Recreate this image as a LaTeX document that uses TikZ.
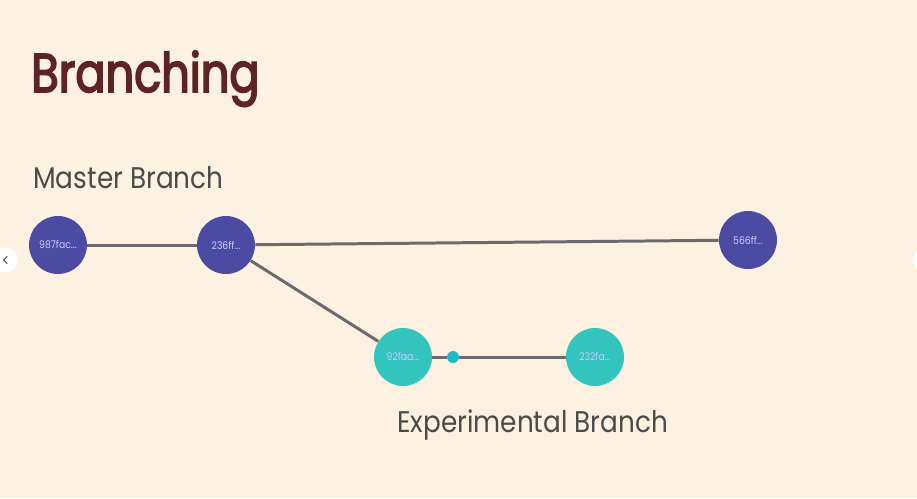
\documentclass[tikz,border=0pt]{standalone}
\usepackage{fontspec}
\setmainfont{Poppins}
\newfontfamily\titlefont{Poppins}[FakeStretch=0.82, FakeBold=3]
\newfontfamily\labelfont{Poppins}[FakeStretch=0.88]
\usetikzlibrary{positioning}
\definecolor{slidebg}{HTML}{FDF1E1}
\definecolor{titlered}{HTML}{5E2424}
\definecolor{labelgray}{HTML}{4A4A48}
\definecolor{masterblue}{HTML}{4B4BA3}
\definecolor{expcyan}{HTML}{33C4BE}
\definecolor{dotcyan}{HTML}{1BBCC9}
\definecolor{edgegray}{HTML}{6B6B6E}
\tikzset{
  commit/.style={circle, minimum size=1.16cm, inner sep=0pt, text=white!80!blue,
    font=\labelfont\fontsize{6}{7}\selectfont},
  mastercommit/.style={commit, fill=masterblue},
  expcommit/.style={commit, fill=expcyan},
  branchlabel/.style={anchor=base west, inner sep=0pt, text=labelgray,
    font=\labelfont\fontsize{17}{20}\selectfont},
  link/.style={draw=edgegray, line width=1.7pt}
}
\begin{document}
\begin{tikzpicture}[x=0.02cm, y=-0.02cm]
  \fill[slidebg] (0,0) rectangle (917,498);
  \useasboundingbox (0,0) rectangle (917,498);
  % title and labels
  \node[anchor=base west, inner sep=0pt, text=titlered,
    font=\titlefont\fontsize{31}{36}\selectfont] (title) at (31,92) {Branching};
  \node[branchlabel] (masterlabel) at (33,188) {Master Branch};
  \node[branchlabel] (explabel) at (397,432) {Experimental Branch};
  % commits
  \node[mastercommit] (c987) at (58,245) {987fac...};
  \node[mastercommit] (c236) at (226,245) {236ff...};
  \node[mastercommit] (c566) at (748,240) {566ff...};
  \node[expcommit] (c92) at (403,357) {92faa...};
  \node[expcommit] (c232) at (595,357) {232fa...};
  \node[circle, fill=dotcyan, minimum size=0.24cm, inner sep=0pt] (head) at (453,357) {};
  % connectors
  \draw[link] (c987) -- (c236);
  \draw[link] (c236) -- (c566);
  \draw[link] (c236) -- (c92);
  \draw[link] (c92) -- (head);
  \draw[link] (head) -- (c232);
  % slide arrows
  \node[circle, fill=white, minimum size=0.5cm, inner sep=0pt] (prev) at (5,260) {};
  \draw[labelgray, line width=0.6pt, line cap=round, line join=round]
    ([xshift=1.2pt, yshift=2pt]prev.center) -- ([xshift=-0.8pt]prev.center)
    -- ([xshift=1.2pt, yshift=-2pt]prev.center);
  \node[circle, fill=white, minimum size=0.5cm, inner sep=0pt] (next) at (926,260) {};
\end{tikzpicture}
\end{document}
